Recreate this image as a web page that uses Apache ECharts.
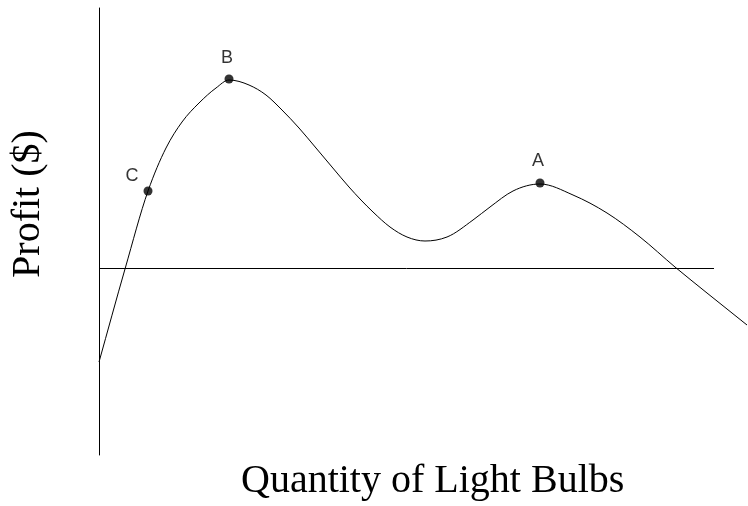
<!DOCTYPE html>
<html>
<head>
<meta charset="utf-8">
<script src="https://cdn.jsdelivr.net/npm/echarts@6/dist/echarts.min.js"></script>
<style>
  html, body { margin: 0; padding: 0; background: #fff; }
  #chart { width: 748px; height: 506px; }
</style>
</head>
<body>
<div id="chart"></div>
<script>
// profit curve, quantity vs profit (arbitrary units)
var quantity = [0, 26, 49, 67, 83, 100, 117, 130, 150, 167, 183, 200, 217, 233, 250, 274, 291, 308, 326, 348, 374, 391, 414, 441, 474, 508, 541, 576, 608, 648];
var profit = [-94, -1, 77, 120, 146, 165, 180, 188, 183, 173, 158, 140, 120, 101, 81, 56, 41, 31, 27, 31, 48, 61, 77, 84, 73, 55, 31, 1, -25, -57];

// labelled points
var pointNames = ['C', 'B', 'A'];
var pointQty = [49, 130, 441];
var pointProfit = [77, 189, 85];

// the zero line stops short of the curve's end
var zeroLineEnd = 615;

var labelOffset = { C: [-16, -15], B: [-2, -21], A: [-2, -22] };

var chart = echarts.init(document.getElementById('chart'));

var curve = [];
for (var i = 0; i < quantity.length; i++) {
  curve.push([quantity[i], profit[i]]);
}

var points = pointNames.map(function (n, i) {
  return {
    name: n,
    value: [pointQty[i], pointProfit[i]],
    label: { offset: labelOffset[n] }
  };
});

// smooth curve through the data: cubic hermite pieces, flat at turning points
function renderCurve(params, api) {
  if (params.dataIndex !== 0) return null;
  var pts = curve.map(function (d) { return api.coord(d); });
  var n = pts.length;
  var h = [], s = [], m = [];
  for (var i = 0; i < n - 1; i++) {
    h[i] = pts[i + 1][0] - pts[i][0];
    s[i] = (pts[i + 1][1] - pts[i][1]) / h[i];
  }
  m[0] = s[0];
  m[n - 1] = s[n - 2];
  for (var k = 1; k < n - 1; k++) {
    if (s[k - 1] * s[k] <= 0) m[k] = 0;
    else m[k] = (s[k - 1] * h[k] + s[k] * h[k - 1]) / (h[k - 1] + h[k]);
  }
  var children = [];
  for (var j = 0; j < n - 1; j++) {
    var d = h[j] / 3;
    children.push({
      type: 'bezierCurve',
      shape: {
        x1: pts[j][0], y1: pts[j][1],
        x2: pts[j + 1][0], y2: pts[j + 1][1],
        cpx1: pts[j][0] + d, cpy1: pts[j][1] + m[j] * d,
        cpx2: pts[j + 1][0] - d, cpy2: pts[j + 1][1] - m[j + 1] * d
      },
      style: { stroke: '#000', lineWidth: 1, fill: null }
    });
  }
  return { type: 'group', children: children };
}

var option = {
  backgroundColor: '#fff',
  animation: false,
  grid: { left: 99, right: 0, top: 8, bottom: 51 },
  xAxis: {
    type: 'value',
    min: 0,
    max: 649,
    axisLine: { show: false },
    axisTick: { show: false },
    axisLabel: { show: false },
    splitLine: { show: false }
  },
  yAxis: {
    type: 'value',
    min: -187,
    max: 260,
    axisLine: { show: true, lineStyle: { color: '#000', width: 1 } },
    axisTick: { show: false },
    axisLabel: { show: false },
    splitLine: { show: false }
  },
  graphic: [
    {
      type: 'text',
      left: 241,
      top: 461,
      style: {
        text: 'Quantity of Light Bulbs',
        font: '40px "Liberation Serif", "Times New Roman", serif',
        fill: '#000'
      }
    },
    {
      type: 'text',
      x: 28,
      y: 204,
      rotation: Math.PI / 2,
      style: {
        text: 'Profit ($)',
        font: '40px "Liberation Serif", "Times New Roman", serif',
        fill: '#000',
        align: 'center',
        verticalAlign: 'middle'
      }
    }
  ],
  series: [
    {
      type: 'custom',
      data: curve,
      encode: { x: 0, y: 1 },
      clip: false,
      silent: true,
      renderItem: renderCurve
    },
    {
      type: 'scatter',
      data: points,
      symbolSize: 9,
      itemStyle: { color: '#000' },
      label: {
        show: true,
        formatter: '{b}',
        position: 'inside',
        color: '#000',
        fontFamily: '"Liberation Sans", Arial, sans-serif',
        fontSize: 18
      },
      markLine: {
        silent: true,
        symbol: 'none',
        label: { show: false },
        lineStyle: { color: '#000', width: 1, type: 'solid' },
        data: [[{ coord: [0, 0] }, { coord: [zeroLineEnd, 0] }]]
      }
    }
  ]
};

chart.setOption(option);
</script>
</body>
</html>
